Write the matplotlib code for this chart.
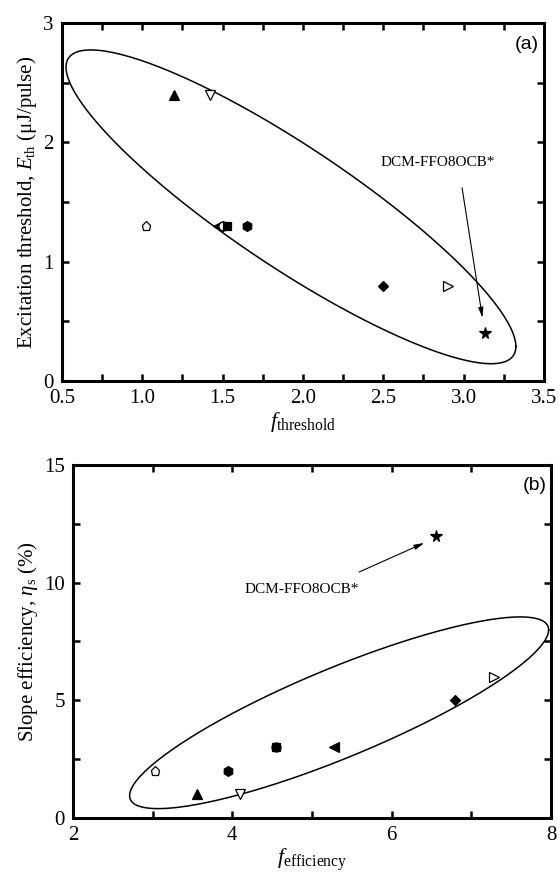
import numpy as np
import matplotlib
matplotlib.use('Agg')
import matplotlib.pyplot as plt
from matplotlib.ticker import MultipleLocator

# ========== fonts ==========
plt.rcParams['font.family'] = ['Liberation Serif', 'DejaVu Serif']
plt.rcParams['mathtext.fontset'] = 'custom'
plt.rcParams['mathtext.rm'] = 'Liberation Serif'
plt.rcParams['mathtext.it'] = 'Liberation Serif:italic'

# ========== data ==========
markers = ['^', 'v', 'p', '<', 'o', 's', 'h', 'D', '>', '*']
filled = [True, False, False, True, False, True, True, True, False, True]

# (a) threshold
f_threshold = [1.20, 1.42, 1.02, 1.47, 1.50, 1.53, 1.65, 2.50, 2.90, 3.13]
e_threshold = [2.4, 2.4, 1.3, 1.3, 1.3, 1.3, 1.3, 0.8, 0.8, 0.4]

# (b) efficiency
f_efficiency = [3.55, 4.09, 3.03, 5.28, 4.55, 4.55, 3.95, 6.80, 7.29, 6.56]
slope_eff = [1.0, 1.0, 2.0, 3.0, 3.0, 3.0, 2.0, 5.0, 6.0, 12.0]

highlight = 'DCM-FFO8OCB*'

# ellipse outlines: center, half-axis vector, conjugate half-axis vector (data units)
ell_a = dict(c=(1.925, 1.46), u=(1.40, -1.17), v=(0.0, 0.60))
ell_b = dict(c=(5.34, 4.47), u=(2.63, 3.52), v=(0.0, 2.05))

marker_size = {'*': 8.5, 'p': 6.5, 's': 5.5, 'o': 6.5, 'D': 5.5}


def draw_ellipse(ax, c, u, v):
    t = np.linspace(0, 2 * np.pi, 400)
    x = c[0] + u[0] * np.cos(t) + v[0] * np.sin(t)
    y = c[1] + u[1] * np.cos(t) + v[1] * np.sin(t)
    ax.plot(x, y, color='black', lw=1.1)


def draw_points(ax, xs, ys):
    for x, y, m, f in zip(xs, ys, markers, filled):
        ms = marker_size.get(m, 7)
        ax.plot(x, y, marker=m, ms=ms, ls='none',
                mfc='black' if f else 'white', mec='black', mew=0.9)


def style_axes(ax):
    for s in ax.spines.values():
        s.set_linewidth(2.2)
    ax.tick_params(which='both', direction='in', top=True, right=True,
                   length=5, width=1.8, labelsize=15, pad=6)


fig = plt.figure(figsize=(5.6, 8.8), dpi=100)

# ---------- panel (a) ----------
ax1 = fig.add_axes([0.1107, 0.5670, 0.8607, 0.4068])
draw_ellipse(ax1, **ell_a)
draw_points(ax1, f_threshold, e_threshold)
ax1.set_xlim(0.5, 3.5)
ax1.set_ylim(0, 3)
ax1.xaxis.set_major_locator(MultipleLocator(0.5))
ax1.xaxis.set_minor_locator(MultipleLocator(0.25))
ax1.yaxis.set_major_locator(MultipleLocator(1))
ax1.yaxis.set_minor_locator(MultipleLocator(0.5))
ax1.xaxis.set_major_formatter(plt.FormatStrFormatter('%.1f'))
style_axes(ax1)
ax1.set_xlabel(r'$f_{\mathrm{threshold}}$', fontsize=16, labelpad=1)
ax1.set_ylabel(r'Excitation threshold, $E_{\mathrm{th}}$ (μJ/pulse)', fontsize=15, labelpad=3)
ax1.text(0.99, 0.965, '(a)', transform=ax1.transAxes, ha='right', va='top',
         fontsize=14, family='Liberation Sans')
ax1.text(2.48, 1.83, highlight, fontsize=11, va='center', ha='left')
ax1.annotate('', xy=(3.117, 0.53), xytext=(2.99, 1.62),
             arrowprops=dict(arrowstyle='-|>,head_width=0.15,head_length=0.6',
                             color='black', lw=0.8, shrinkA=0, shrinkB=0))

# ---------- panel (b) ----------
ax2 = fig.add_axes([0.1304, 0.0705, 0.8536, 0.4011])
draw_ellipse(ax2, **ell_b)
draw_points(ax2, f_efficiency, slope_eff)
ax2.set_xlim(2, 8)
ax2.set_ylim(0, 15)
ax2.xaxis.set_major_locator(MultipleLocator(2))
ax2.xaxis.set_minor_locator(MultipleLocator(1))
ax2.yaxis.set_major_locator(MultipleLocator(5))
ax2.yaxis.set_minor_locator(MultipleLocator(2.5))
style_axes(ax2)
ax2.set_xlabel(r'$f_{\mathrm{efficiency}}$', fontsize=16, labelpad=1)
ax2.set_ylabel(r'Slope efficiency, $\eta_{\mathrm{s}}$ (%)', fontsize=15, labelpad=3)
ax2.text(0.99, 0.965, '(b)', transform=ax2.transAxes, ha='right', va='top',
         fontsize=14, family='Liberation Sans')
ax2.text(4.15, 9.72, highlight, fontsize=11, va='center', ha='left')
ax2.annotate('', xy=(6.41, 11.69), xytext=(5.59, 10.45),
             arrowprops=dict(arrowstyle='-|>,head_width=0.15,head_length=0.6',
                             color='black', lw=0.8, shrinkA=0, shrinkB=0))

fig.savefig('out.png', dpi=100)
